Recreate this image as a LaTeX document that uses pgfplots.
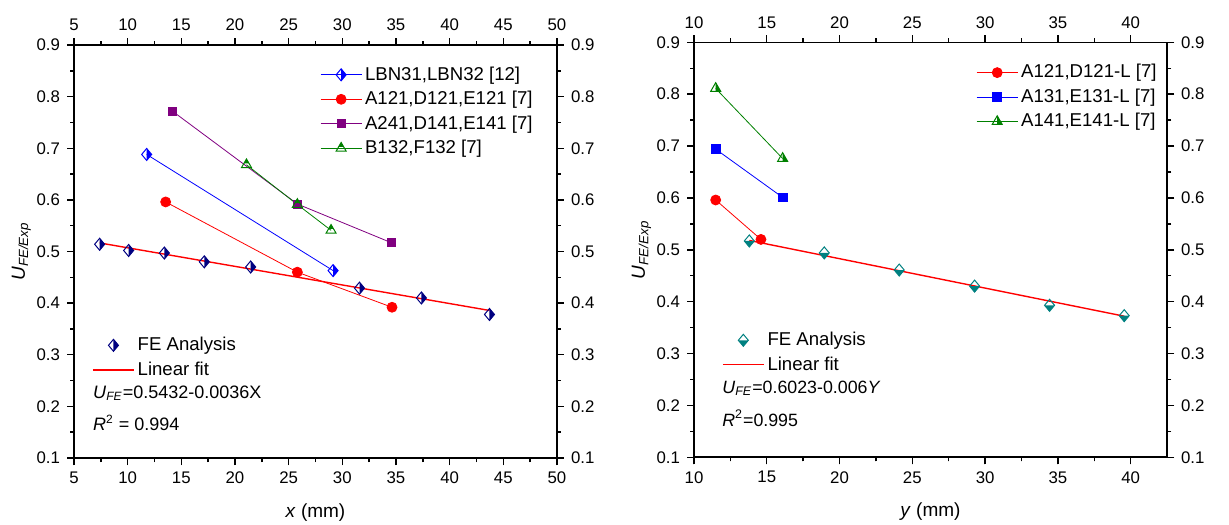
\documentclass[border=0pt]{standalone}
\usepackage{fontspec}
\setmainfont{Liberation Sans}
\usepackage{pgfplots}
\pgfplotsset{compat=1.18}

% half-filled marks
\pgfdeclareplotmark{dR}{%
  \pgfpathmoveto{\pgfqpoint{0pt}{1.2\pgfplotmarksize}}%
  \pgfpathlineto{\pgfqpoint{\pgfplotmarksize}{0pt}}%
  \pgfpathlineto{\pgfqpoint{0pt}{-1.2\pgfplotmarksize}}%
  \pgfpathclose\pgfusepathqfill
  \pgfpathmoveto{\pgfqpoint{0pt}{1.2\pgfplotmarksize}}%
  \pgfpathlineto{\pgfqpoint{\pgfplotmarksize}{0pt}}%
  \pgfpathlineto{\pgfqpoint{0pt}{-1.2\pgfplotmarksize}}%
  \pgfpathlineto{\pgfqpoint{-\pgfplotmarksize}{0pt}}%
  \pgfpathclose\pgfusepathqstroke}
\pgfdeclareplotmark{dB}{%
  \pgfpathmoveto{\pgfqpoint{-\pgfplotmarksize}{0pt}}%
  \pgfpathlineto{\pgfqpoint{\pgfplotmarksize}{0pt}}%
  \pgfpathlineto{\pgfqpoint{0pt}{-1.2\pgfplotmarksize}}%
  \pgfpathclose\pgfusepathqfill
  \pgfpathmoveto{\pgfqpoint{0pt}{1.2\pgfplotmarksize}}%
  \pgfpathlineto{\pgfqpoint{\pgfplotmarksize}{0pt}}%
  \pgfpathlineto{\pgfqpoint{0pt}{-1.2\pgfplotmarksize}}%
  \pgfpathlineto{\pgfqpoint{-\pgfplotmarksize}{0pt}}%
  \pgfpathclose\pgfusepathqstroke}
\pgfdeclareplotmark{tT}{%
  \pgfpathmoveto{\pgfqpoint{0pt}{\pgfplotmarksize}}%
  \pgfpathlineto{\pgfqpoint{0.433\pgfplotmarksize}{0.25\pgfplotmarksize}}%
  \pgfpathlineto{\pgfqpoint{-0.433\pgfplotmarksize}{0.25\pgfplotmarksize}}%
  \pgfpathclose\pgfusepathqfill
  \pgfpathmoveto{\pgfqpoint{0pt}{\pgfplotmarksize}}%
  \pgfpathlineto{\pgfqpoint{0.866\pgfplotmarksize}{-0.5\pgfplotmarksize}}%
  \pgfpathlineto{\pgfqpoint{-0.866\pgfplotmarksize}{-0.5\pgfplotmarksize}}%
  \pgfpathclose\pgfusepathqstroke}
\pgfdeclareplotmark{tR}{%
  \pgfpathmoveto{\pgfqpoint{0pt}{\pgfplotmarksize}}%
  \pgfpathlineto{\pgfqpoint{0.866\pgfplotmarksize}{-0.5\pgfplotmarksize}}%
  \pgfpathlineto{\pgfqpoint{0pt}{-0.5\pgfplotmarksize}}%
  \pgfpathclose\pgfusepathqfill
  \pgfpathmoveto{\pgfqpoint{0pt}{\pgfplotmarksize}}%
  \pgfpathlineto{\pgfqpoint{0.866\pgfplotmarksize}{-0.5\pgfplotmarksize}}%
  \pgfpathlineto{\pgfqpoint{-0.866\pgfplotmarksize}{-0.5\pgfplotmarksize}}%
  \pgfpathclose\pgfusepathqstroke}

\definecolor{cnavy}{RGB}{0,0,128}
\definecolor{cblue}{RGB}{0,0,255}
\definecolor{cred}{RGB}{255,0,0}
\definecolor{cpurple}{RGB}{128,0,128}
\definecolor{cgreen}{RGB}{0,128,0}
\definecolor{cteal}{RGB}{0,128,128}

\pgfplotsset{
  myleg/.style={legend image code/.code={\draw[mark repeat=2,mark phase=2,##1] plot coordinates {(0pt,0pt) (10.25pt,0pt) (20.5pt,0pt)};}},
  base/.style={
    anchor=south west, scale only axis,
    ymin=0.1, ymax=0.9,
    ytick={0.1,0.2,...,0.9},
    minor tick num=1,
    tick align=outside,
    tick pos=both,
    major tick length=3.5pt, minor tick length=2pt,
    axis line style={line width=0.8pt},
    every tick/.style={black, line width=0.7pt},
    tick label style={font=\fontsize{8.4}{10}\selectfont},
    /pgf/number format/assume math mode=true,
    yticklabel style={/pgf/number format/.cd, fixed, fixed zerofill, precision=1},
    legend cell align=left,
  },
}

\begin{document}
\begin{tikzpicture}
\path[use as bounding box] (0,0) rectangle (614.5pt,262pt);

% ---------- Left panel: FE layer (top/right labels) ----------
\begin{axis}[base,
  at={(37pt,33pt)}, width=241.5pt, height=206.5pt,
  xmin=5, xmax=50, xtick={5,10,...,50},
  xticklabel pos=right, yticklabel pos=right,
  legend style={at={(0.037,0.301)}, anchor=north west, draw=none, fill=none,
    font=\fontsize{9.3}{11}\selectfont, inner sep=0pt, row sep=1pt,
    nodes={inner sep=1.5pt}},
]
\addplot[only marks, mark=dR, mark size=2.5pt, draw=cnavy, fill=cnavy, line width=0.5pt, myleg]
  coordinates {(7.39,0.514) (10.09,0.502) (13.42,0.497) (17.14,0.480) (21.46,0.470) (31.6,0.429) (37.37,0.410) (43.71,0.378)};
\addlegendentry{FE Analysis}
\addplot[cred, line width=0.7pt, no marks, myleg]
  coordinates {(7.39,0.5166) (43.71,0.3858)};
\addlegendentry{Linear fit}
\node[anchor=west, font=\fontsize{9}{10}\selectfont, inner sep=0pt] at (rel axis cs:0.039,0.157)
  {\textit{U}\textsubscript{\textit{FE}}=0.5432-0.0036X};
\node[anchor=west, font=\fontsize{9}{10}\selectfont, inner sep=0pt] at (rel axis cs:0.039,0.085)
  {\textit{R}\textsuperscript{2} = 0.994};
\end{axis}

% ---------- Left panel: main ----------
\begin{axis}[base,
  at={(37pt,33pt)}, width=241.5pt, height=206.5pt,
  xmin=5, xmax=50, xtick={5,10,...,50},
  xlabel={\textit{x} (mm)},
  ylabel={\textit{U}\textsubscript{\textit{FE/Exp}}},
  label style={font=\fontsize{9.5}{11}\selectfont},
  ylabel style={at={(axis description cs:-0.109,0.5)}, anchor=center},
  xlabel style={at={(axis description cs:0.5,-0.131)}, anchor=center},
  legend style={at={(0.509,0.956)}, anchor=north west, draw=none, fill=none,
    font=\fontsize{9.3}{11}\selectfont, inner sep=0pt, row sep=1pt,
    nodes={inner sep=1.5pt}},
]
\addplot[cblue, line width=0.4pt, mark=dR, mark size=2.5pt, mark options={draw=cblue, fill=cblue, line width=0.5pt}, myleg]
  coordinates {(11.77,0.688) (29.14,0.463)};
\addlegendentry{LBN31,LBN32 [12]}
\addplot[cred, line width=0.4pt, mark=*, mark size=2.5pt, mark options={draw=cred, fill=cred}, myleg]
  coordinates {(13.54,0.596) (25.81,0.460) (34.63,0.392)};
\addlegendentry{A121,D121,E121 [7]}
\addplot[cpurple, line width=0.4pt, mark=square*, mark size=2pt, mark options={draw=cpurple, fill=cpurple}, myleg]
  coordinates {(14.16,0.772) (25.81,0.592) (34.57,0.517)};
\addlegendentry{A241,D141,E141 [7]}
\addplot[cgreen, line width=0.4pt, mark=tT, mark size=2.9pt, mark options={draw=cgreen, fill=cgreen, line width=0.5pt}, myleg]
  coordinates {(21.07,0.668) (25.81,0.591) (28.95,0.541)};
\addlegendentry{B132,F132 [7]}
\end{axis}

% ---------- Right panel: FE layer ----------
\begin{axis}[base,
  at={(347pt,33.35pt)}, width=236.5pt, height=207.5pt,
  xmin=10, xmax=42.5, xtick={10,15,...,40},
  xticklabel pos=right, yticklabel pos=right,
  legend style={at={(0.0586,0.31)}, anchor=north west, draw=none, fill=none,
    font=\fontsize{9.3}{11}\selectfont, inner sep=0pt, row sep=1pt,
    nodes={inner sep=1.5pt}},
]
\addplot[only marks, mark=dB, mark size=2.5pt, draw=cteal, fill=cteal, line width=0.5pt, myleg]
  coordinates {(13.80,0.517) (18.95,0.494) (24.1,0.461) (29.28,0.430) (34.43,0.393) (39.56,0.373)};
\addlegendentry{FE Analysis}
\addplot[cred, line width=0.7pt, no marks, myleg]
  coordinates {(13.8,0.518) (39.56,0.372)};
\addlegendentry{Linear fit}
\node[anchor=west, font=\fontsize{8.9}{10}\selectfont, inner sep=0pt] at (rel axis cs:0.059,0.166)
  {\textit{U}\textsubscript{\textit{FE}}=0.6023-0.006\textit{Y}};
\node[anchor=west, font=\fontsize{8.9}{10}\selectfont, inner sep=0pt] at (rel axis cs:0.059,0.094)
  {\textit{R}\textsuperscript{2}=0.995};
\end{axis}

% ---------- Right panel: main ----------
\begin{axis}[base,
  at={(347pt,33.35pt)}, width=236.5pt, height=207.5pt,
  xmin=10, xmax=42.5, xtick={10,15,...,40},
  xlabel={\textit{y} (mm)},
  ylabel={\textit{U}\textsubscript{\textit{FE/Exp}}},
  label style={font=\fontsize{9.5}{11}\selectfont},
  ylabel style={at={(axis description cs:-0.111,0.5)}, anchor=center},
  xlabel style={at={(axis description cs:0.5,-0.131)}, anchor=center},
  legend style={at={(0.596,0.955)}, anchor=north west, draw=none, fill=none,
    font=\fontsize{9.3}{11}\selectfont, inner sep=0pt, row sep=1pt,
    nodes={inner sep=1.5pt}},
]
\addplot[cred, line width=0.4pt, mark=*, mark size=2.5pt, mark options={draw=cred, fill=cred}, myleg]
  coordinates {(11.49,0.596) (14.6,0.520)};
\addlegendentry{A121,D121-L [7]}
\addplot[cblue, line width=0.4pt, mark=square*, mark size=2.2pt, mark options={draw=cblue, fill=cblue}, myleg]
  coordinates {(11.49,0.694) (16.09,0.601)};
\addlegendentry{A131,E131-L [7]}
\addplot[cgreen, line width=0.4pt, mark=tR, mark size=2.9pt, mark options={draw=cgreen, fill=cgreen, line width=0.5pt}, myleg]
  coordinates {(11.49,0.811) (16.09,0.676)};
\addlegendentry{A141,E141-L [7]}
\end{axis}
\end{tikzpicture}
\end{document}
